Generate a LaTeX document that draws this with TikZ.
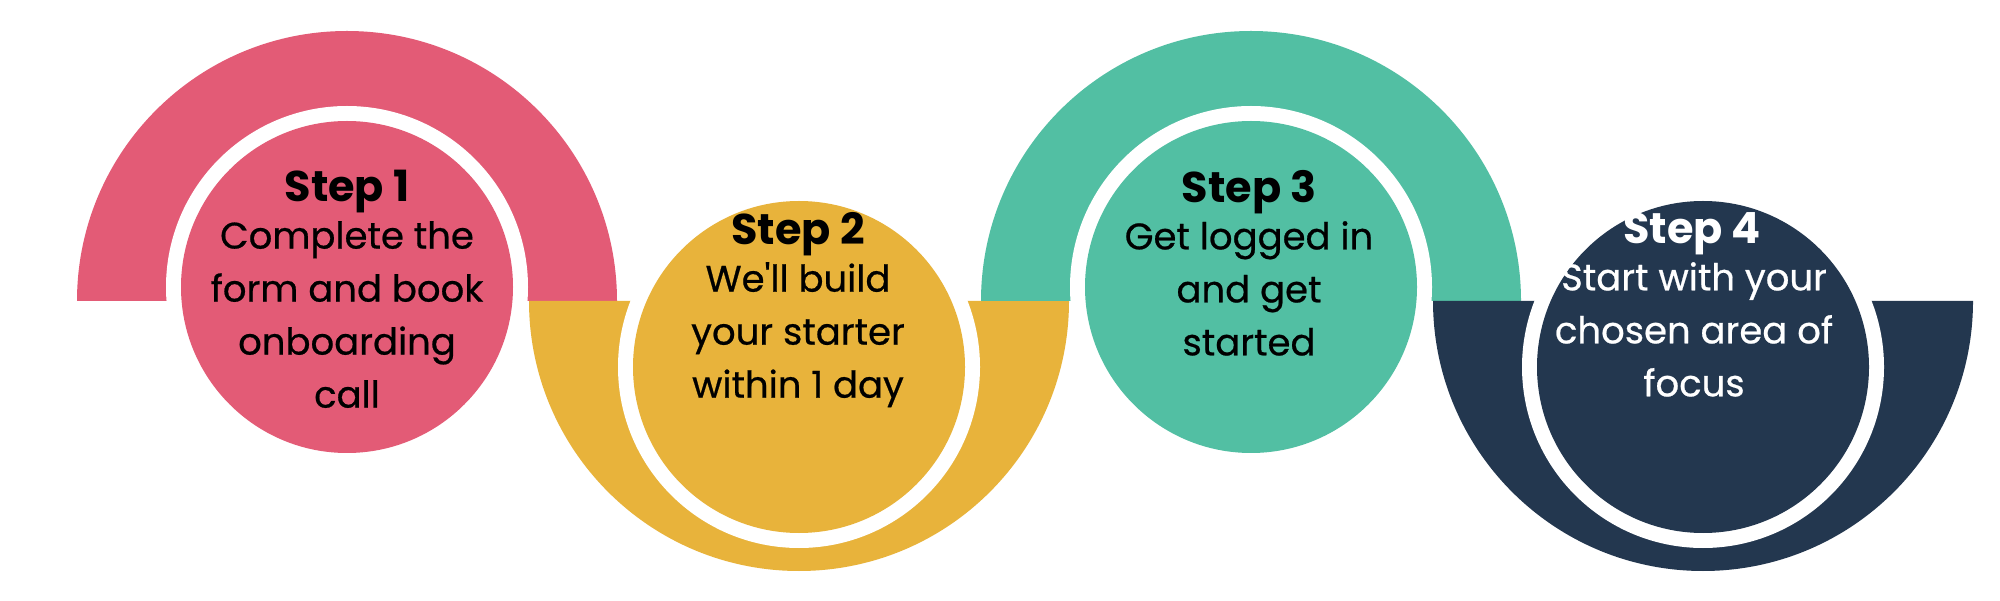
\documentclass[tikz,border=0pt]{standalone}
\usepackage{fontspec}
\setmainfont{Poppins}
\newfontfamily\popmed[FakeBold=0.6]{Poppins}
\definecolor{cpink}{HTML}{E35B76}
\definecolor{cyel}{HTML}{E8B33B}
\definecolor{cteal}{HTML}{52BFA3}
\definecolor{cnavy}{HTML}{23374F}
\begin{document}
\begin{tikzpicture}[x=1pt,y=1pt]
\tikzset{
  disk/.style={circle,minimum size=332pt,inner sep=0pt},
  gap/.style={circle,fill=white,minimum size=362pt,inner sep=0pt},
  txt/.style={align=center,font=\popmed\fontsize{37}{53}\selectfont,inner sep=0pt},
  ttl/.style={font=\fontsize{43}{48}\selectfont\bfseries,inner sep=0pt}
}
\useasboundingbox (0,0) rectangle (2000,600);
\fill[white] (0,0) rectangle (2000,600);
% half rings
\fill[cpink] (77,299) arc[start angle=180,end angle=0,radius=270] -- cycle;
\fill[cyel] (529,299) arc[start angle=180,end angle=360,radius=270] -- cycle;
\fill[cteal] (981,299) arc[start angle=180,end angle=0,radius=270] -- cycle;
\fill[cnavy] (1433,299) arc[start angle=180,end angle=360,radius=270] -- cycle;
% white gaps
\node[gap] (g1) at (347,313) {};
\node[gap] (g2) at (799,233) {};
\node[gap] (g3) at (1251,313) {};
\node[gap] (g4) at (1703,233) {};
% disks
\node[disk,fill=cpink] (d1) at (347,313) {};
\node[disk,fill=cyel] (d2) at (799,233) {};
\node[disk,fill=cteal] (d3) at (1251,313) {};
\node[disk,fill=cnavy] (d4) at (1703,233) {};
% texts
\node[ttl] (s1) at (347,408) {Step 1};
\node[txt,anchor=north] (t1) at (347,379) {Complete the\\form and book\\onboarding\\call};
\node[ttl] (s2) at (798,366) {Step 2};
\node[txt,anchor=north] (t2) at (798,338) {We'll build\\your starter\\within 1 day};
\node[ttl] (s3) at (1249,408) {Step 3};
\node[txt,anchor=north] (t3) at (1249,379) {Get logged in\\and get\\started};
\node[ttl,text=white] (s4) at (1692,366) {Step 4};
\node[txt,anchor=north,text=white] (t4) at (1694,338) {Start with your\\chosen area of\\focus};
\end{tikzpicture}
\end{document}
